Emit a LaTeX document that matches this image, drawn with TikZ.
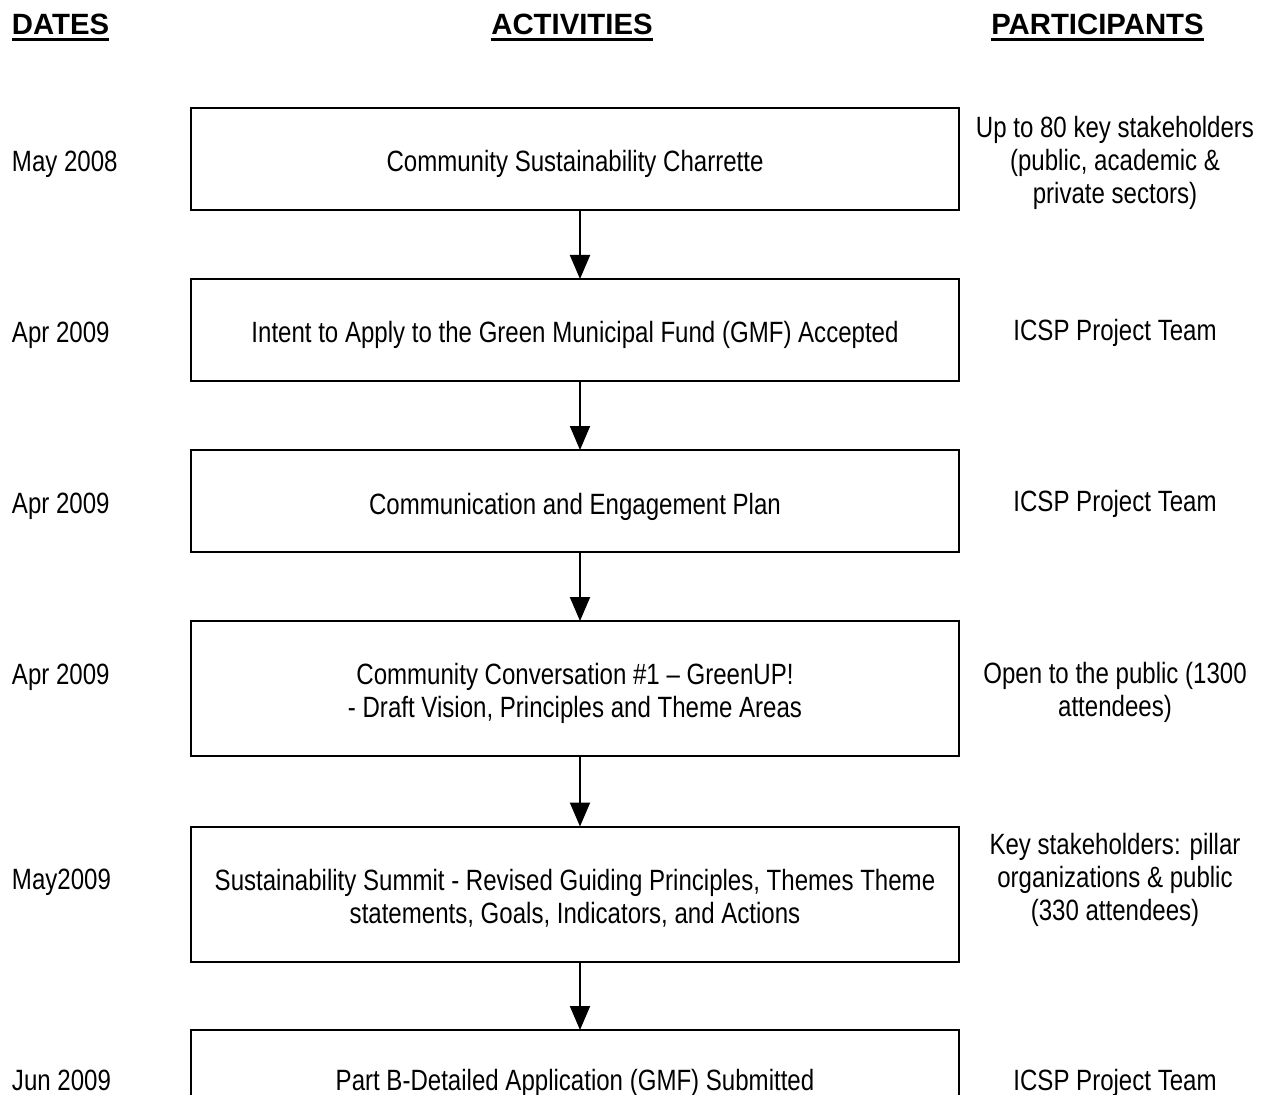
\documentclass[tikz,border=0pt]{standalone}
\usepackage{fontspec}
\setmainfont[FakeStretch=0.82]{Liberation Sans}
\newfontfamily\hdfont{Liberation Sans}
\usetikzlibrary{arrows.meta}
\begin{document}
\begin{tikzpicture}[x=0.75pt,y=-0.75pt,
  every node/.style={inner sep=0pt,outer sep=0pt,font=\fontsize{22}{24.75}\selectfont},
  box/.style={draw,line width=1.5pt,minimum width=576pt,text height=19.5pt,text depth=0pt},
  short/.style={minimum height=76.5pt},
  tall/.style={minimum height=101.25pt},
  datelbl/.style={anchor=base west},
  part/.style={align=center},
  hdr/.style={anchor=base,font=\hdfont\bfseries\fontsize{22}{24.75}\selectfont},
  uline/.style={line width=2.25pt},
  arr/.style={line width=1.5pt,-{Triangle[length=18pt,width=15pt]}}
]
\useasboundingbox (0,0) rectangle (1265,1095);
\clip (0,0) rectangle (1265,1095);
% headers
\node[hdr,anchor=base west] (hd) at (12,35) {DATES};
\node[hdr] (ha) at (572,35) {ACTIVITIES};
\node[hdr] (hp) at (1097.5,35) {PARTICIPANTS};
\foreach \h in {hd,ha,hp}
  \draw[uline] ([yshift=-3pt]\h.south west) -- ([yshift=-3pt]\h.south east);
% boxes
\node[box,short] (b1) at (575,159) {Community Sustainability Charrette};
\node[box,short] (b2) at (575,330) {Intent to Apply to the Green Municipal Fund (GMF) Accepted};
\node[box,short] (b3) at (575,501) {Communication and Engagement Plan};
\node[box,tall] (b4) at (575,688.5) {\begin{tabular}{@{}c@{}}Community Conversation \#1 -- GreenUP!\\- Draft Vision, Principles and Theme Areas\end{tabular}};
\node[box,tall] (b5) at (575,894) {\begin{tabular}{@{}c@{}}Sustainability Summit - Revised Guiding Principles, Themes Theme\\statements, Goals, Indicators, and Actions\end{tabular}};
\node[box,short,text height=13.5pt] (b6) at (575,1081) {Part B-Detailed Application (GMF) Submitted};
% arrows
\draw[arr] ([xshift=3.75pt]b1.south) -- ([xshift=3.75pt]b2.north);
\draw[arr] ([xshift=3.75pt]b2.south) -- ([xshift=3.75pt]b3.north);
\draw[arr] ([xshift=3.75pt]b3.south) -- ([xshift=3.75pt]b4.north);
\draw[arr] ([xshift=3.75pt]b4.south) -- ([xshift=3.75pt]b5.north);
\draw[arr] ([xshift=3.75pt]b5.south) -- ([xshift=3.75pt]b6.north);
% dates
\node[datelbl] (d1) at (12,172) {May 2008};
\node[datelbl] (d2) at (12,342) {Apr 2009};
\node[datelbl] (d3) at (12,513) {Apr 2009};
\node[datelbl] (d4) at (12,684) {Apr 2009};
\node[datelbl] (d5) at (12,889) {May2009};
\node[datelbl] (d6) at (12,1090) {Jun 2009};
% participants
\node[part] (p1) at (1115,163) {Up to 80 key stakeholders\\(public, academic \&\\private sectors)};
\node[part] (p2) at (1115,333) {ICSP Project Team};
\node[part] (p3) at (1115,504) {ICSP Project Team};
\node[part] (p4) at (1115,692) {Open to the public (1300\\attendees)};
\node[part] (p5) at (1115,880) {Key stakeholders: pillar\\organizations \& public\\(330 attendees)};
\node[part,anchor=base] (p6) at (1115,1090) {ICSP Project Team};
\end{tikzpicture}
\end{document}
